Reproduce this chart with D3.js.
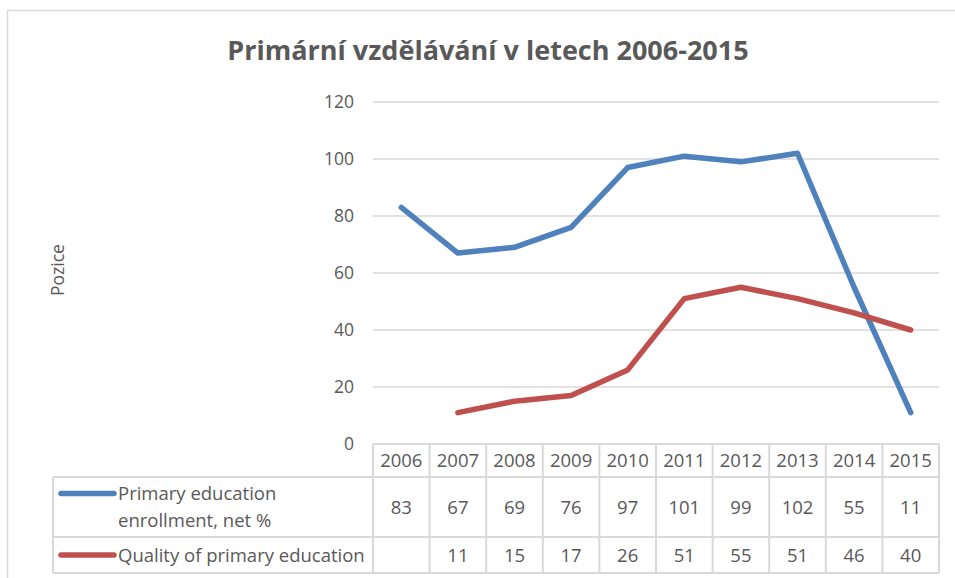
<!DOCTYPE html>
<html>
<head>
<meta charset="utf-8">
<script src="https://cdn.jsdelivr.net/npm/d3@7"></script>
<style>
  body { margin: 0; background: #fff; }
  svg { display: block; font-family: "Open Sans", "Noto Sans", sans-serif; }
</style>
</head>
<body>
<svg id="chart" width="955" height="578"></svg>
<script>
// data
const years = ["2006", "2007", "2008", "2009", "2010", "2011", "2012", "2013", "2014", "2015"];
const enrollment = [83, 67, 69, 76, 97, 101, 99, 102, 55, 11];
const quality = [null, 11, 15, 17, 26, 51, 55, 51, 46, 40];
const yTicks = [0, 20, 40, 60, 80, 100, 120];

const seriesList = [
    { name: ["Primary education", "enrollment, net %"], values: enrollment, color: "#4F81BD" },
    { name: ["Quality of primary education"], values: quality, color: "#C0504D" }
];

const svg = d3.select("#chart");
const textColor = "#595959";
const gridColor = "#d9d9d9";

// chart frame
svg.append("rect")
    .attr("x", 7.5).attr("y", 10.5)
    .attr("width", 960).attr("height", 600)
    .attr("fill", "none")
    .attr("stroke", gridColor)
    .attr("stroke-width", 1.5);

const x = d3.scaleBand().domain(years).range([373, 939]);
const y = d3.scaleLinear().domain([0, 120]).range([444, 102]);

// title
svg.append("text")
    .attr("x", 488).attr("y", 60)
    .attr("text-anchor", "middle")
    .attr("font-size", 27)
    .attr("font-weight", "bold")
    .attr("fill", textColor)
    .text("Primární vzdělávání v letech 2006-2015");

// gridlines
svg.append("g")
    .selectAll("line")
    .data(yTicks.filter(d => d > 0))
    .join("line")
    .attr("x1", 373).attr("x2", 939)
    .attr("y1", d => y(d)).attr("y2", d => y(d))
    .attr("stroke", gridColor)
    .attr("stroke-width", 1.5);

// y axis labels
const yAxis = d3.axisLeft(y).tickValues(yTicks).tickSize(0).tickPadding(0);
svg.append("g")
    .attr("transform", "translate(354,0)")
    .call(yAxis)
    .call(g => g.select(".domain").remove())
    .call(g => g.selectAll("text")
        .attr("font-size", 17.5)
        .attr("font-family", "'Open Sans', sans-serif")
        .attr("fill", textColor));

svg.append("text")
    .attr("transform", "translate(64,270) rotate(-90)")
    .attr("text-anchor", "middle")
    .attr("font-size", 17.5)
    .attr("fill", textColor)
    .text("Pozice");

// lines
const cx = d => x(d) + x.bandwidth() / 2;
const line = d3.line()
    .defined(d => d.v !== null)
    .x(d => cx(d.year))
    .y(d => y(d.v));

seriesList.forEach(s => {
    svg.append("path")
        .datum(years.map((yr, i) => ({ year: yr, v: s.values[i] })))
        .attr("d", line)
        .attr("fill", "none")
        .attr("stroke", s.color)
        .attr("stroke-width", 5.5)
        .attr("stroke-linecap", "round")
        .attr("stroke-linejoin", "round");
});

// data table
const table = svg.append("g");
const rowTops = [444, 477, 537, 573];
const tableLeft = 53, tableRight = 939;

// horizontal borders
table.append("line").attr("x1", 373).attr("x2", tableRight).attr("y1", rowTops[0]).attr("y2", rowTops[0]);
rowTops.slice(1).forEach(t => {
    table.append("line").attr("x1", tableLeft).attr("x2", tableRight).attr("y1", t).attr("y2", t);
});
// vertical borders
table.append("line").attr("x1", tableLeft).attr("x2", tableLeft).attr("y1", rowTops[1]).attr("y2", rowTops[3]);
years.forEach(yr => {
    table.append("line").attr("x1", x(yr)).attr("x2", x(yr)).attr("y1", rowTops[0]).attr("y2", rowTops[3]);
});
table.append("line").attr("x1", tableRight).attr("x2", tableRight).attr("y1", rowTops[0]).attr("y2", rowTops[3]);
table.selectAll("line").attr("stroke", gridColor).attr("stroke-width", 2);

// header years
table.selectAll("text.year")
    .data(years)
    .join("text")
    .attr("class", "year")
    .attr("x", d => cx(d))
    .attr("y", (rowTops[0] + rowTops[1]) / 2 + 6.5)
    .attr("text-anchor", "middle")
    .attr("font-size", 18.5)
    .attr("fill", textColor)
    .text(d => d);

// series rows
seriesList.forEach((s, si) => {
    const top = rowTops[si + 1], bottom = rowTops[si + 2];
    const mid = (top + bottom) / 2;
    const firstLineY = s.name.length > 1 ? mid - 13.5 : mid;

    table.append("line")
        .attr("x1", 61).attr("x2", 114)
        .attr("y1", firstLineY).attr("y2", firstLineY)
        .attr("stroke", s.color)
        .attr("stroke-width", 5.5)
        .attr("stroke-linecap", "round");

    s.name.forEach((t, k) => {
        table.append("text")
            .attr("x", 118)
            .attr("y", firstLineY + 6.5 + k * 27)
            .attr("font-size", 18.5)
            .attr("fill", textColor)
            .text(t);
    });

    table.selectAll(null)
        .data(years.map((yr, i) => ({ year: yr, v: s.values[i] })).filter(d => d.v !== null))
        .join("text")
        .attr("x", d => cx(d.year))
        .attr("y", mid + 6.5)
        .attr("text-anchor", "middle")
        .attr("font-size", 18.5)
        .attr("fill", textColor)
        .text(d => d.v);
});
</script>
</body>
</html>
